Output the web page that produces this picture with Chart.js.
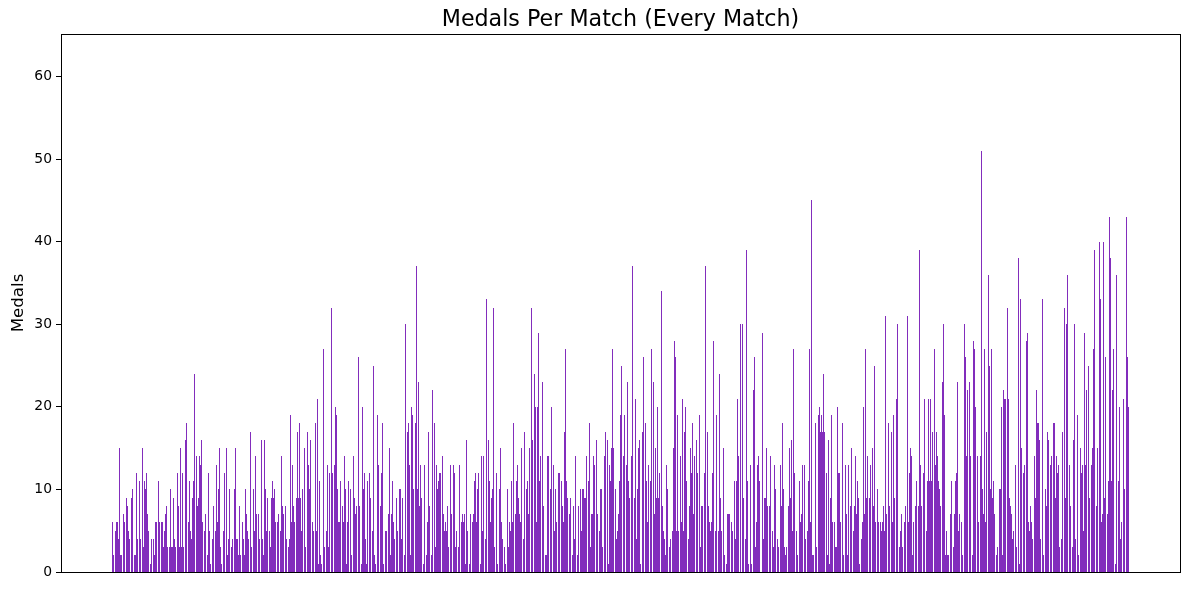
<!DOCTYPE html>
<html>
<head>
<meta charset="utf-8">
<title>Medals Per Match</title>
<script src="https://cdn.jsdelivr.net/npm/chart.js@4"></script>
<style>html,body{margin:0;padding:0;background:#fff}canvas{display:block}</style>
</head>
<body>
<canvas id="c" width="1189" height="590"></canvas>
<script>
const titleText = "Medals Per Match (Every Match)";
const yLabel = "Medals";
const yTicks = [0, 10, 20, 30, 40, 50, 60];
const medalsA = [6,2,0,5,6,6,4,15,2,2,0,7,6,0,9,8,5,4,0,9,10,0,2,2,12,4,0,11,4,0,15,3,11,10,12,7,5,0,1,4,0,4,2,6,6,0,11,6,0,6,6,3,5,7,8,3,0,3,10,3,3,9,4,3,0,12,8,3,15,3,12,3,0,16,18,0,6,11,5,4,9,11,24,0,14,8,9,14,13,16,6,0,5,7,0,2,12,5,1,0,4,8,0,5,13,6,10,15,3,1,0,5,12,0,15,2,4,10,0,3,4,0,10,15,4,4];
const medalsB = [2,8,2,0,6,4,2,10,7,5,4,0,17,3,0,10,5,14,7,0,7,4,0,16,4,2,16,10,5,9,0,5,3,9,11,9,10,6,0,6,7,0,5,14,8,7,0,8,4,0,3,4,19,6,13,8,6,0,9,17,9,18,9,5,10,0,15,3,0,17,13,10,16,0,6,5,0,18,5,21,1,11,2,1,0,27,3,0,5,13,3,12,0,32,12,0,13,20,19,10,6,6,11,0,8,6,14,10,1,6,11,0,10,2,0,14,9,7,8,0,26,8,0,1,20,10,12,4];
const medalsC = [1,11,0,12,9,0,5,25,2,1,0,19,13,0,8,12,18,1,0,5,5,0,7,15,2,7,11,6,4,0,9,5,0,10,10,4,9,0,2,30,0,17,18,13,2,20,19,10,0,18,37,10,23,8,13,9,0,1,13,0,2,6,17,8,0,2,22,0,18,3,13,10,11,12,12,0,14,7,5,6,5,8,3,0,13,7,0,13,12,3,5,0,3,13,0,6,7,6,7,1,16,5,0,1,7,0,6,7,11,12,6,10,12,0,1,14,5,14,0,4,33,0,16,11,6,9,10];
const medalsD = [32,3,0,12,1,0,10,15,6,4,0,3,1,0,10,3,6,5,11,6,18,0,7,11,13,9,7,6,15,0,4,17,0,10,11,7,15,0,32,16,0,24,20,6,20,29,11,14,0,23,8,0,2,2,14,14,0,10,20,0,13,5,10,6,0,12,12,0,11,8,6,17,27,11,9,0,7,9,0,2,8,4,14,0,2,8,0,10,5,10,10,9,9,14,0,11,18,3,7,7,14,13,0,16,7,0,5,10,10,3,0,14,17,0,16,1,13,11,15,27,15,0,10,4,5,7,11];
const medalsE = [19,25,0,14,19,0,13,23,11,9,0,14,37,0,9,21,4,10,15,16,1,0,17,26,0,18,11,6,13,0,11,27,0,23,7,15,9,20,9,12,0,34,8,5,4,2,13,10,0,3,4,0,5,15,28,26,5,19,5,0,14,6,21,5,17,20,11,0,4,8,15,12,18,7,14,0,16,12,0,19,3,8,8,0,12,37,0,17,8,6,5,6,12,28,0,5,19,0,5,24,9,5,0,15,2,0,1,7,7,7,0,6,5,0,11,4,11,21,14,0,30,0,30,9,0,4,39];
const medalsF = [11,1,0,13,1,0,22,26,3,6,13,14,11,0,0,29,4,9,9,15,8,0,8,14,0,5,3,13,10,0,4,3,0,13,8,18,10,3,2,3,0,8,15,9,16,5,27,12,0,5,2,0,11,6,7,13,0,13,4,0,5,11,27,6,45,2,2,0,18,3,0,19,20,17,19,17,24,17,0,12,2,16,1,9,19,6,0,6,3,3,20,12,12,6,0,18,2,0,13,7,2,13,0,8,15,0,5,8,14,7,11,9,1,0,4,6,20,7,27,9,14,0,9,13,0,15,8];
const medalsG = [25,6,0,10,6,0,6,5,6,8,5,31,7,0,18,8,0,17,6,19,9,0,21,30,0,3,5,7,3,0,6,8,0,31,6,12,15,14,2,6,0,8,11,0,8,39,13,8,0,12,21,0,5,11,21,11,21,11,17,0,27,13,17,14,11,10,8,0,23,30,19,2,5,2,2,0,7,11,0,3,7,11,12,23,5,7,0,6,2,0,30,26,14,22,0,23,14,0,2,28,27,20,0,14,6,0,14,51,10,7,27,6,17,0,36,25,10,27,9,11,7,0,2,3,0,10,10];
const medalsH = [20,2,22,21,21,0,32,21,9,8,7,4,5,0,13,3,0,38,1,33,15,0,12,13,0,28,29,6,5,8,6,4,0,14,9,22,18,18,16,4,0,33,2,0,10,8,17,16,0,13,14,0,18,18,9,14,12,13,3,0,4,17,0,32,9,30,36,0,13,8,0,3,16,30,4,0,19,2,0,15,12,13,5,29,13,22,0,25,9,0,13,15,27,39,0,8,15,0,40,33,6,7,40,9,26,0,7,11,43,38,11,22,27,0,1,36,0,11,20,4,6,0,21,10,0,43,26,20];
const medals = [].concat(medalsA, medalsB, medalsC, medalsD, medalsE, medalsF, medalsG, medalsH);
const matches = medals.map((_, i) => i);

const crispBars = {
  id: 'crispBars',
  afterDatasetsUpdate(chart) {
    chart.getDatasetMeta(0).data.forEach(el => { el.y = Math.round(el.y); el.base = Math.round(el.base); });
  }
};
const frame = {
  id: 'frame',
  afterDraw(chart) {
    const a = chart.chartArea, g = chart.ctx;
    g.save();
    g.strokeStyle = '#000';
    g.lineWidth = 1;
    g.strokeRect(Math.round(a.left) + 0.5, Math.round(a.top) + 0.5, Math.round(a.right - a.left), Math.round(a.bottom - a.top));
    g.restore();
  }
};

Chart.defaults.font.family = '"DejaVu Sans"';
Chart.defaults.color = '#000';

new Chart(document.getElementById('c'), {
  type: 'bar',
  data: {
    labels: matches,
    datasets: [{
      data: medals,
      backgroundColor: '#822DBC',
      barThickness: 1,
      inflateAmount: 0,
      borderWidth: 0
    }]
  },
  plugins: [crispBars, frame],
  options: {
    responsive: false,
    animation: false,
    layout: { padding: { right: 9, bottom: 18, left: 0, top: 0 } },
    plugins: {
      legend: { display: false },
      tooltip: { enabled: false },
      title: {
        display: true,
        text: titleText,
        fullSize: false,
        color: '#000',
        font: { size: 22.2, weight: 'normal' },
        padding: { top: 7.36, bottom: 0 }
      }
    },
    scales: {
      x: {
        type: 'linear',
        offset: false,
        min: -51.5,
        max: 1067.5,
        ticks: { display: false },
        grid: { display: false },
        border: { display: false },
        afterFit(s) { s.height = 0; }
      },
      y: {
        min: 0,
        max: 65.15,
        afterBuildTicks(s) { s.ticks = yTicks.map(v => ({ value: v })); },
        afterFit(s) { s.width = 61; },
        ticks: { font: { size: 13.9 }, color: '#000', padding: 4 },
        grid: { drawOnChartArea: false, drawTicks: true, tickLength: 5, tickColor: '#000', tickWidth: 1 },
        border: { display: false },
        title: { display: true, text: yLabel, color: '#000', font: { size: 16.67 }, padding: { top: 9, bottom: 0 } }
      }
    }
  }
});
</script>
</body>
</html>
